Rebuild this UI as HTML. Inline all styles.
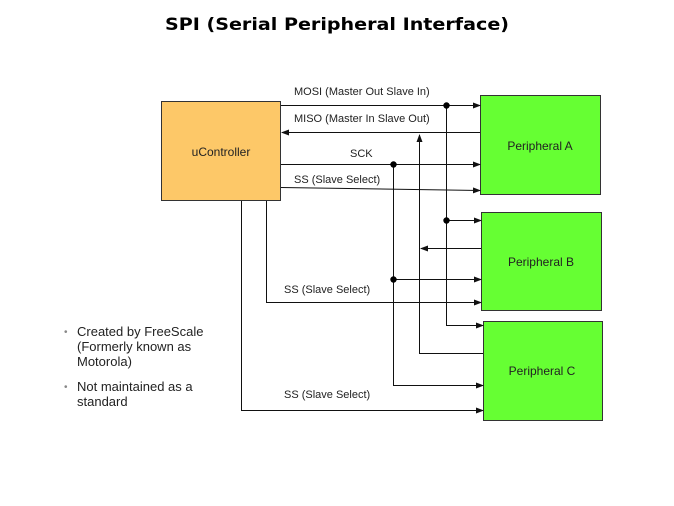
<!DOCTYPE html>
<html><head><meta charset="utf-8"><style>
html,body{margin:0;padding:0;background:#fff;}
svg{display:block;}
text{font-family:"Liberation Sans",Arial,sans-serif;fill:#222;}
</style></head><body>
<svg width="674" height="506" viewBox="0 0 674 506" xmlns="http://www.w3.org/2000/svg">
<defs>
<marker id="a" markerWidth="8" markerHeight="6" refX="7" refY="3" orient="auto" markerUnits="userSpaceOnUse">
<path d="M0,0 L8,3 L0,6 z" fill="#111"/></marker>
</defs>
<text x="337" y="30" text-anchor="middle" style="font-family:'DejaVu Sans',Verdana,sans-serif;font-weight:bold;font-size:17px;fill:#000" textLength="344" lengthAdjust="spacingAndGlyphs">SPI (Serial Peripheral Interface)</text>

<rect x="161.5" y="101.5" width="119" height="99" fill="#fdc868" stroke="#333"/>
<text x="221" y="156" text-anchor="middle" font-size="12">uController</text>
<rect x="480.5" y="95.5" width="120" height="99" fill="#66ff33" stroke="#333"/>
<text x="540" y="150" text-anchor="middle" font-size="12">Peripheral A</text>
<rect x="481.5" y="212.5" width="120" height="98" fill="#66ff33" stroke="#333"/>
<text x="541" y="266" text-anchor="middle" font-size="12">Peripheral B</text>
<rect x="483.5" y="321.5" width="119" height="99" fill="#66ff33" stroke="#333"/>
<text x="542" y="375" text-anchor="middle" font-size="12">Peripheral C</text>

<g stroke="#111" stroke-width="1" fill="none">
<!-- MOSI -->
<line x1="281" y1="105.5" x2="480" y2="105.5" marker-end="url(#a)"/>
<line x1="446.5" y1="105" x2="446.5" y2="325.5"/>
<line x1="446" y1="220.5" x2="481" y2="220.5" marker-end="url(#a)"/>
<line x1="446" y1="325.5" x2="483" y2="325.5" marker-end="url(#a)"/>
<!-- MISO -->
<line x1="480" y1="132.5" x2="282" y2="132.5" marker-end="url(#a)"/>
<line x1="419.5" y1="353" x2="419.5" y2="135" marker-end="url(#a)"/>
<line x1="481" y1="248.5" x2="421" y2="248.5" marker-end="url(#a)"/>
<line x1="483" y1="353.5" x2="419" y2="353.5"/>
<!-- SCK -->
<line x1="281" y1="164.5" x2="480" y2="164.5" marker-end="url(#a)"/>
<line x1="393.5" y1="164" x2="393.5" y2="385.5"/>
<line x1="393" y1="279.5" x2="481" y2="279.5" marker-end="url(#a)"/>
<line x1="393" y1="385.5" x2="483" y2="385.5" marker-end="url(#a)"/>
<!-- SS -->
<line x1="281" y1="187.5" x2="480" y2="190.5" marker-end="url(#a)"/>
<polyline points="266.5,201 266.5,302.5 481,302.5" marker-end="url(#a)"/>
<polyline points="241.5,201 241.5,410.5 483,410.5" marker-end="url(#a)"/>
</g>
<g fill="#000">
<circle cx="446.5" cy="105.5" r="3.2"/>
<circle cx="446.5" cy="220.5" r="3.2"/>
<circle cx="393.5" cy="164.5" r="3.2"/>
<circle cx="393.5" cy="279.5" r="3.2"/>
</g>
<g font-size="11">
<text x="294" y="95">MOSI  (Master Out Slave In)</text>
<text x="294" y="122">MISO  (Master In Slave Out)</text>
<text x="350" y="157">SCK</text>
<text x="294" y="183">SS (Slave Select)</text>
<text x="284" y="293">SS (Slave Select)</text>
<text x="284" y="398">SS (Slave Select)</text>
</g>
<g font-size="13">
<text x="64" y="335" font-size="10" style="fill:#888">•</text>
<text x="77" y="336">Created by FreeScale</text>
<text x="77" y="351">(Formerly known as</text>
<text x="77" y="366">Motorola)</text>
<text x="64" y="390" font-size="10" style="fill:#888">•</text>
<text x="77" y="391">Not maintained as a</text>
<text x="77" y="406">standard</text>
</g>
</svg>
</body></html>
